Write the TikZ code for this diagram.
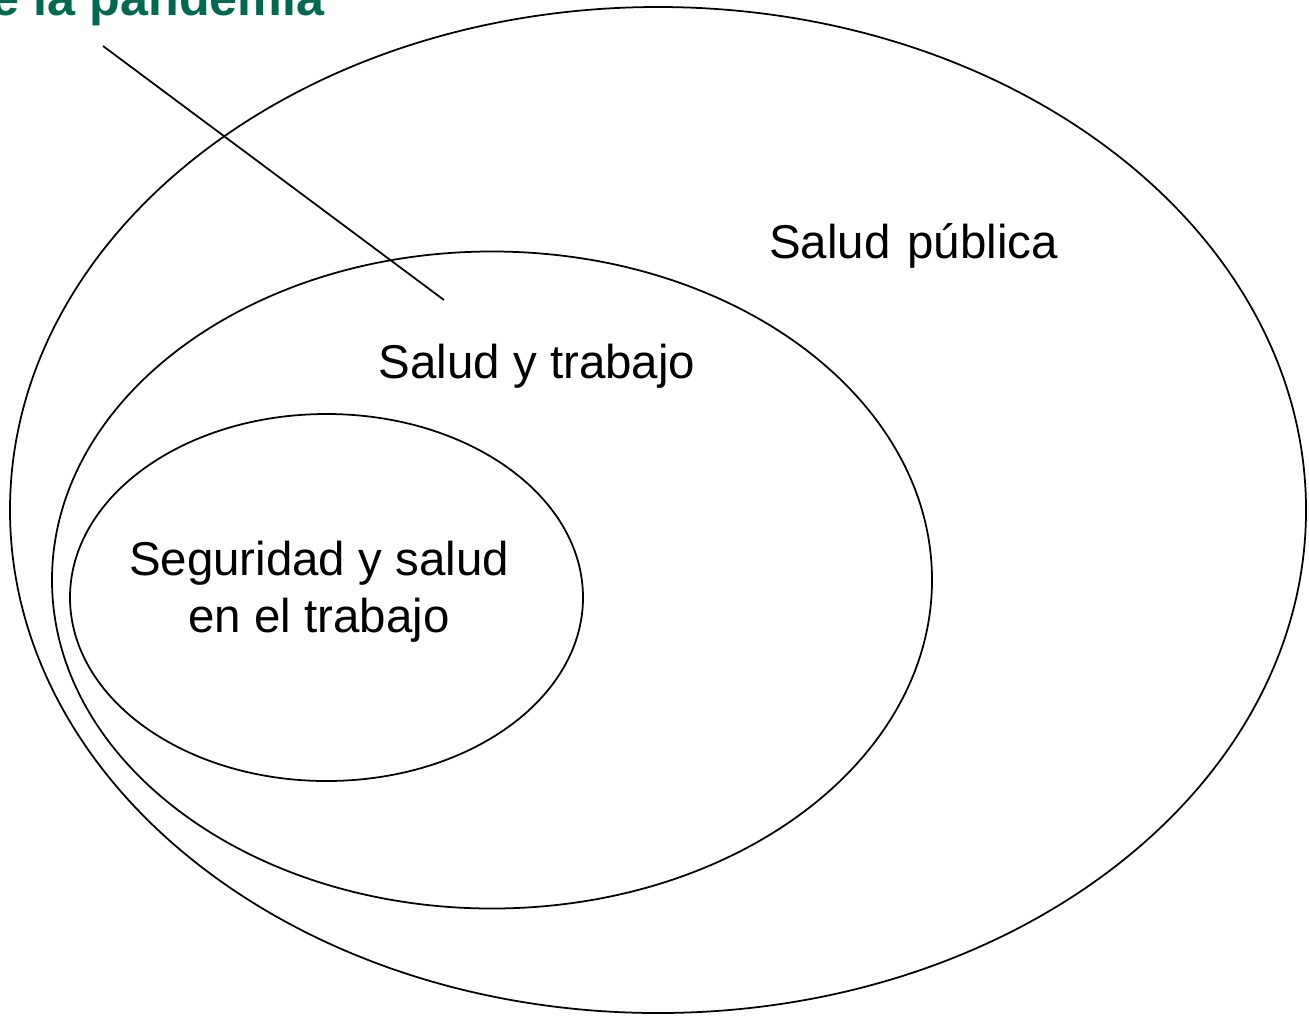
\documentclass[tikz,border=0pt]{standalone}
\usepackage{fontspec}
\setmainfont{Liberation Sans}
\usetikzlibrary{shapes.geometric, positioning}
\definecolor{pandgreen}{RGB}{0,105,80}

\begin{document}
\begin{tikzpicture}[
        % Estilos para los conjuntos
        conjunto/.style={
                ellipse,
                draw=black,
                line width=0.5pt,
                inner sep=0pt
            },
        % Textos
        etiqueta/.style={
                font=\fontsize{13.5}{16.2}\selectfont,
                align=center,
                inner sep=0pt,
                anchor=base
            },
        titulo/.style={
                font=\bfseries\fontsize{14.3}{17}\selectfont,
                text=pandgreen,
                inner sep=0pt,
                anchor=base east
            },
        % Linea
        linea/.style={
                line width=0.5pt,
                color=black
            }
    ]
    \useasboundingbox (0,0) rectangle (13.09,10.15);

    % CONJUNTOS (de fuera hacia dentro)
    \node[conjunto, minimum width=12.96cm, minimum height=10.06cm] (publica) at (6.58,5.05) {};
    \node[conjunto, minimum width=8.80cm, minimum height=6.57cm] (trabajo) at (4.92,4.35) {};
    \node[conjunto, minimum width=5.13cm, minimum height=3.67cm] (seguridad) at (3.265,4.175) {};

    % ETIQUETAS
    \node[etiqueta] (lpublica) at (9.135,7.57) {Salud\hspace{0.08em} pública};
    \node[etiqueta] (ltrabajo) at (5.37,6.37) {Salud y trabajo};
    \node[etiqueta] (lseguridad) at (3.19,3.83) {Seguridad y salud\\en el trabajo};

    % TITULO (cortado arriba)
    \node[titulo] (pandemia) at (3.25,10.00) {de la pandemia};

    % LINEA
    \coordinate (inicio) at (1.03,9.69);
    \coordinate (fin) at (4.44,7.15);
    \draw[linea] (inicio) -- (fin);

\end{tikzpicture}
\end{document}
